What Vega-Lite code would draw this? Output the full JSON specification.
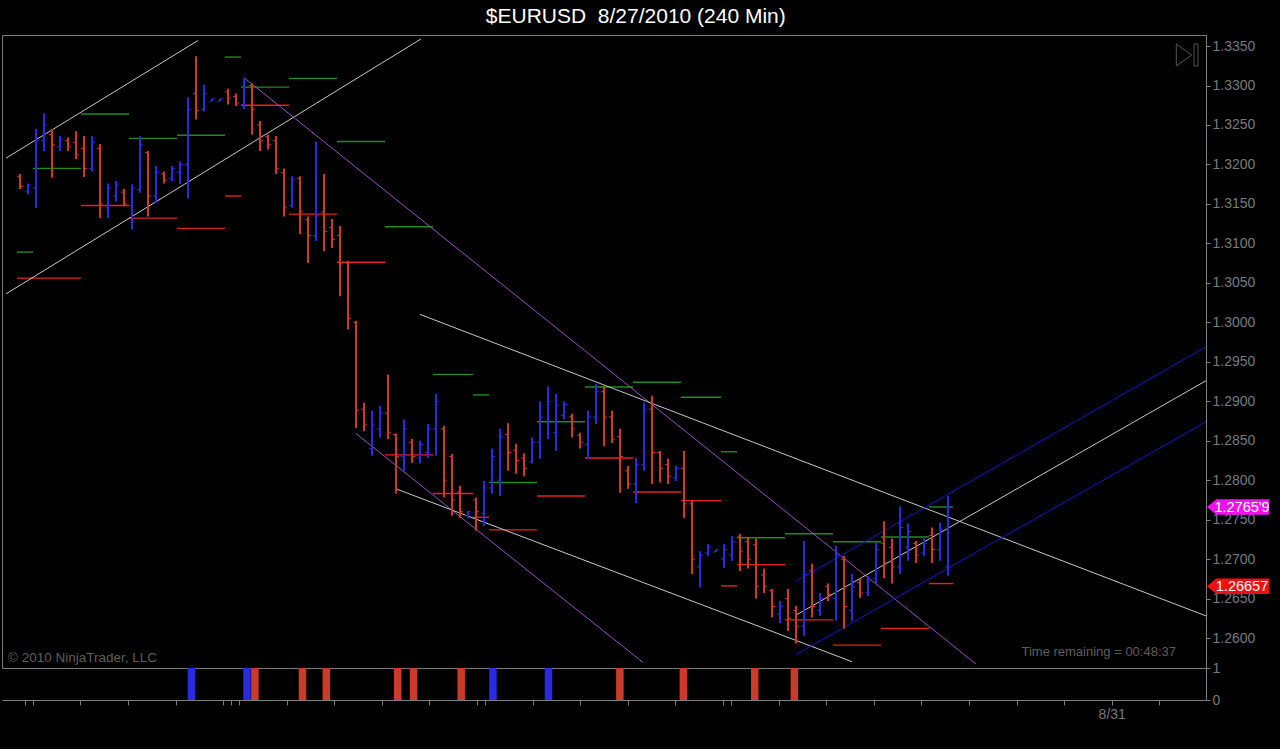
{
  "$schema": "https://vega.github.io/schema/vega-lite/v6.json",
  "background": "#000000",
  "padding": {"left": 1, "top": 5, "right": 12, "bottom": 28},
  "bounds": "flush",
  "title": {"text": "$EURUSD\u00a0 8/27/2010 (240 Min)", "color": "#ffffff", "font": "Liberation Sans", "fontSize": 21, "fontWeight": "normal", "offset": 8, "anchor": "middle"},
  "datasets": {
    "bars": [
      {"i":0,"o":1.3185,"h":1.3188,"l":1.3169,"c":1.3172,"d":"dn"},
      {"i":1,"o":1.3166,"h":1.3176,"l":1.3162,"c":1.3174,"d":"up"},
      {"i":2,"o":1.3170,"h":1.3245,"l":1.3145,"c":1.3230,"d":"up"},
      {"i":3,"o":1.3230,"h":1.3265,"l":1.3217,"c":1.3250,"d":"up"},
      {"i":4,"o":1.3238,"h":1.3245,"l":1.3183,"c":1.3225,"d":"dn"},
      {"i":5,"o":1.3222,"h":1.3236,"l":1.3217,"c":1.3232,"d":"up"},
      {"i":6,"o":1.3230,"h":1.3234,"l":1.3217,"c":1.3222,"d":"dn"},
      {"i":7,"o":1.3228,"h":1.3242,"l":1.3207,"c":1.3212,"d":"dn"},
      {"i":8,"o":1.3220,"h":1.3236,"l":1.3184,"c":1.3195,"d":"dn"},
      {"i":9,"o":1.3195,"h":1.3236,"l":1.3191,"c":1.3228,"d":"up"},
      {"i":10,"o":1.3220,"h":1.3226,"l":1.3132,"c":1.3150,"d":"dn"},
      {"i":11,"o":1.3145,"h":1.3176,"l":1.3132,"c":1.3170,"d":"up"},
      {"i":12,"o":1.3160,"h":1.3179,"l":1.3153,"c":1.3175,"d":"up"},
      {"i":13,"o":1.3165,"h":1.3169,"l":1.3147,"c":1.3150,"d":"dn"},
      {"i":14,"o":1.3148,"h":1.3175,"l":1.3118,"c":1.3170,"d":"up"},
      {"i":15,"o":1.3168,"h":1.3236,"l":1.3164,"c":1.3225,"d":"up"},
      {"i":16,"o":1.3215,"h":1.3217,"l":1.3134,"c":1.3160,"d":"dn"},
      {"i":17,"o":1.3160,"h":1.3198,"l":1.3151,"c":1.3190,"d":"up"},
      {"i":18,"o":1.3188,"h":1.3191,"l":1.3176,"c":1.3180,"d":"dn"},
      {"i":19,"o":1.3182,"h":1.3198,"l":1.3179,"c":1.3195,"d":"up"},
      {"i":20,"o":1.3190,"h":1.3204,"l":1.3175,"c":1.3200,"d":"up"},
      {"i":21,"o":1.3200,"h":1.3285,"l":1.3157,"c":1.3270,"d":"up"},
      {"i":22,"o":1.3290,"h":1.3337,"l":1.3257,"c":1.3268,"d":"dn"},
      {"i":23,"o":1.3270,"h":1.3301,"l":1.3267,"c":1.3290,"d":"up"},
      {"i":24,"o":1.3280,"h":1.3283,"l":1.3280,"c":1.3283,"d":"up"},
      {"i":25,"o":1.3280,"h":1.3283,"l":1.3280,"c":1.3283,"d":"up"},
      {"i":26,"o":1.3292,"h":1.3296,"l":1.3276,"c":1.3284,"d":"dn"},
      {"i":27,"o":1.3286,"h":1.3290,"l":1.3274,"c":1.3278,"d":"dn"},
      {"i":28,"o":1.3276,"h":1.3309,"l":1.3270,"c":1.3305,"d":"up"},
      {"i":29,"o":1.3300,"h":1.3303,"l":1.3238,"c":1.3270,"d":"dn"},
      {"i":30,"o":1.3250,"h":1.3255,"l":1.3217,"c":1.3230,"d":"dn"},
      {"i":31,"o":1.3235,"h":1.3238,"l":1.3219,"c":1.3225,"d":"dn"},
      {"i":32,"o":1.3230,"h":1.3236,"l":1.3188,"c":1.3195,"d":"dn"},
      {"i":33,"o":1.3190,"h":1.3195,"l":1.3134,"c":1.3145,"d":"dn"},
      {"i":34,"o":1.3148,"h":1.3185,"l":1.3145,"c":1.3180,"d":"up"},
      {"i":35,"o":1.3182,"h":1.3185,"l":1.3112,"c":1.3140,"d":"dn"},
      {"i":36,"o":1.3130,"h":1.3134,"l":1.3075,"c":1.3110,"d":"dn"},
      {"i":37,"o":1.3110,"h":1.3229,"l":1.3103,"c":1.3135,"d":"up"},
      {"i":38,"o":1.3140,"h":1.3188,"l":1.3090,"c":1.3115,"d":"dn"},
      {"i":39,"o":1.3120,"h":1.3131,"l":1.3094,"c":1.3105,"d":"dn"},
      {"i":40,"o":1.3110,"h":1.3122,"l":1.3033,"c":1.3075,"d":"dn"},
      {"i":41,"o":1.3075,"h":1.3078,"l":1.2991,"c":1.3005,"d":"dn"},
      {"i":42,"o":1.3000,"h":1.3002,"l":1.2866,"c":1.2888,"d":"dn"},
      {"i":43,"o":1.2890,"h":1.2898,"l":1.2862,"c":1.2870,"d":"dn"},
      {"i":44,"o":1.2840,"h":1.2888,"l":1.2831,"c":1.2870,"d":"up"},
      {"i":45,"o":1.2865,"h":1.2894,"l":1.2854,"c":1.2885,"d":"up"},
      {"i":46,"o":1.2885,"h":1.2934,"l":1.2852,"c":1.2860,"d":"dn"},
      {"i":47,"o":1.2858,"h":1.2859,"l":1.2783,"c":1.2830,"d":"dn"},
      {"i":48,"o":1.2830,"h":1.2877,"l":1.2812,"c":1.2865,"d":"up"},
      {"i":49,"o":1.2848,"h":1.2852,"l":1.2822,"c":1.2830,"d":"dn"},
      {"i":50,"o":1.2828,"h":1.2850,"l":1.2821,"c":1.2845,"d":"up"},
      {"i":51,"o":1.2835,"h":1.2871,"l":1.2828,"c":1.2865,"d":"up"},
      {"i":52,"o":1.2865,"h":1.2909,"l":1.2831,"c":1.2900,"d":"up"},
      {"i":53,"o":1.2865,"h":1.2869,"l":1.2778,"c":1.2800,"d":"dn"},
      {"i":54,"o":1.2830,"h":1.2833,"l":1.2755,"c":1.2775,"d":"dn"},
      {"i":55,"o":1.2785,"h":1.2793,"l":1.2752,"c":1.2760,"d":"dn"},
      {"i":56,"o":1.2755,"h":1.2761,"l":1.2752,"c":1.2760,"d":"up"},
      {"i":57,"o":1.2775,"h":1.2778,"l":1.2736,"c":1.2760,"d":"dn"},
      {"i":58,"o":1.2758,"h":1.2799,"l":1.2742,"c":1.2790,"d":"up"},
      {"i":59,"o":1.2790,"h":1.2840,"l":1.2783,"c":1.2830,"d":"up"},
      {"i":60,"o":1.2800,"h":1.2865,"l":1.2780,"c":1.2855,"d":"up"},
      {"i":61,"o":1.2858,"h":1.2872,"l":1.2812,"c":1.2835,"d":"dn"},
      {"i":62,"o":1.2838,"h":1.2846,"l":1.2808,"c":1.2825,"d":"dn"},
      {"i":63,"o":1.2828,"h":1.2834,"l":1.2805,"c":1.2815,"d":"dn"},
      {"i":64,"o":1.2823,"h":1.2854,"l":1.2821,"c":1.2848,"d":"up"},
      {"i":65,"o":1.2848,"h":1.2900,"l":1.2827,"c":1.2880,"d":"up"},
      {"i":66,"o":1.2875,"h":1.2919,"l":1.2852,"c":1.2900,"d":"up"},
      {"i":67,"o":1.2860,"h":1.2909,"l":1.2837,"c":1.2895,"d":"up"},
      {"i":68,"o":1.2882,"h":1.2900,"l":1.2877,"c":1.2896,"d":"up"},
      {"i":69,"o":1.2880,"h":1.2884,"l":1.2854,"c":1.2865,"d":"dn"},
      {"i":70,"o":1.2857,"h":1.2860,"l":1.2840,"c":1.2848,"d":"dn"},
      {"i":71,"o":1.2845,"h":1.2888,"l":1.2827,"c":1.2880,"d":"up"},
      {"i":72,"o":1.2880,"h":1.2922,"l":1.2871,"c":1.2912,"d":"up"},
      {"i":73,"o":1.2912,"h":1.2919,"l":1.2843,"c":1.2880,"d":"dn"},
      {"i":74,"o":1.2880,"h":1.2888,"l":1.2847,"c":1.2852,"d":"dn"},
      {"i":75,"o":1.2855,"h":1.2865,"l":1.2784,"c":1.2830,"d":"dn"},
      {"i":76,"o":1.2812,"h":1.2818,"l":1.2789,"c":1.2795,"d":"dn"},
      {"i":77,"o":1.2795,"h":1.2828,"l":1.2771,"c":1.2820,"d":"up"},
      {"i":78,"o":1.2820,"h":1.2898,"l":1.2812,"c":1.2890,"d":"up"},
      {"i":79,"o":1.2890,"h":1.2907,"l":1.2795,"c":1.2835,"d":"dn"},
      {"i":80,"o":1.2835,"h":1.2837,"l":1.2797,"c":1.2815,"d":"dn"},
      {"i":81,"o":1.2820,"h":1.2827,"l":1.2795,"c":1.2805,"d":"dn"},
      {"i":82,"o":1.2803,"h":1.2818,"l":1.2799,"c":1.2815,"d":"up"},
      {"i":83,"o":1.2815,"h":1.2837,"l":1.2752,"c":1.2770,"d":"dn"},
      {"i":84,"o":1.2770,"h":1.2774,"l":1.2681,"c":1.2700,"d":"dn"},
      {"i":85,"o":1.2690,"h":1.2710,"l":1.2664,"c":1.2705,"d":"up"},
      {"i":86,"o":1.2708,"h":1.2719,"l":1.2704,"c":1.2715,"d":"up"},
      {"i":87,"o":1.2709,"h":1.2712,"l":1.2709,"c":1.2712,"d":"up"},
      {"i":88,"o":1.2700,"h":1.2719,"l":1.2689,"c":1.2712,"d":"up"},
      {"i":89,"o":1.2705,"h":1.2729,"l":1.2698,"c":1.2722,"d":"up"},
      {"i":90,"o":1.2728,"h":1.2732,"l":1.2685,"c":1.2710,"d":"dn"},
      {"i":91,"o":1.2722,"h":1.2727,"l":1.2688,"c":1.2700,"d":"dn"},
      {"i":92,"o":1.2718,"h":1.2726,"l":1.2650,"c":1.2665,"d":"dn"},
      {"i":93,"o":1.2680,"h":1.2688,"l":1.2657,"c":1.2665,"d":"dn"},
      {"i":94,"o":1.2660,"h":1.2662,"l":1.2626,"c":1.2640,"d":"dn"},
      {"i":95,"o":1.2630,"h":1.2647,"l":1.2619,"c":1.2640,"d":"up"},
      {"i":96,"o":1.2650,"h":1.2662,"l":1.2609,"c":1.2625,"d":"dn"},
      {"i":97,"o":1.2635,"h":1.2641,"l":1.2593,"c":1.2615,"d":"dn"},
      {"i":98,"o":1.2615,"h":1.2723,"l":1.2603,"c":1.2680,"d":"up"},
      {"i":99,"o":1.2685,"h":1.2694,"l":1.2626,"c":1.2640,"d":"dn"},
      {"i":100,"o":1.2635,"h":1.2657,"l":1.2628,"c":1.2650,"d":"up"},
      {"i":101,"o":1.2665,"h":1.2669,"l":1.2647,"c":1.2655,"d":"dn"},
      {"i":102,"o":1.2650,"h":1.2717,"l":1.2622,"c":1.2705,"d":"up"},
      {"i":103,"o":1.2700,"h":1.2704,"l":1.2612,"c":1.2640,"d":"dn"},
      {"i":104,"o":1.2635,"h":1.2681,"l":1.2622,"c":1.2665,"d":"up"},
      {"i":105,"o":1.2670,"h":1.2675,"l":1.2651,"c":1.2657,"d":"dn"},
      {"i":106,"o":1.2658,"h":1.2679,"l":1.2653,"c":1.2672,"d":"up"},
      {"i":107,"o":1.2675,"h":1.2721,"l":1.2669,"c":1.2712,"d":"up"},
      {"i":108,"o":1.2720,"h":1.2748,"l":1.2676,"c":1.2695,"d":"dn"},
      {"i":109,"o":1.2715,"h":1.2726,"l":1.2669,"c":1.2690,"d":"dn"},
      {"i":110,"o":1.2690,"h":1.2767,"l":1.2681,"c":1.2740,"d":"up"},
      {"i":111,"o":1.2715,"h":1.2745,"l":1.2698,"c":1.2735,"d":"up"},
      {"i":112,"o":1.2720,"h":1.2723,"l":1.2695,"c":1.2705,"d":"dn"},
      {"i":113,"o":1.2708,"h":1.2726,"l":1.2704,"c":1.2720,"d":"up"},
      {"i":114,"o":1.2730,"h":1.2740,"l":1.2695,"c":1.2712,"d":"dn"},
      {"i":115,"o":1.2712,"h":1.2746,"l":1.2698,"c":1.2738,"d":"up"},
      {"i":116,"o":1.2690,"h":1.2780,"l":1.2679,"c":1.2766,"d":"up"}
    ],
    "levels": [
      {"s":-0.375,"e":1.625,"p":1.3089,"k":"hi"},
      {"s":-0.375,"e":7.625,"p":1.3056,"k":"lo"},
      {"s":1.625,"e":7.625,"p":1.3195,"k":"hi"},
      {"s":7.625,"e":13.625,"p":1.3264,"k":"hi"},
      {"s":7.625,"e":13.625,"p":1.3148,"k":"lo"},
      {"s":13.625,"e":19.625,"p":1.3233,"k":"hi"},
      {"s":13.625,"e":19.625,"p":1.3132,"k":"lo"},
      {"s":19.625,"e":25.625,"p":1.3237,"k":"hi"},
      {"s":19.625,"e":25.625,"p":1.3119,"k":"lo"},
      {"s":25.625,"e":27.625,"p":1.3336,"k":"hi"},
      {"s":25.625,"e":27.625,"p":1.3160,"k":"lo"},
      {"s":27.625,"e":33.625,"p":1.3298,"k":"hi"},
      {"s":27.625,"e":33.625,"p":1.3275,"k":"lo"},
      {"s":33.625,"e":39.625,"p":1.3309,"k":"hi"},
      {"s":33.625,"e":39.625,"p":1.3137,"k":"lo"},
      {"s":39.625,"e":45.625,"p":1.3229,"k":"hi"},
      {"s":39.625,"e":45.625,"p":1.3076,"k":"lo"},
      {"s":45.625,"e":51.625,"p":1.3121,"k":"hi"},
      {"s":45.625,"e":51.625,"p":1.2832,"k":"lo"},
      {"s":51.625,"e":56.625,"p":1.2934,"k":"hi"},
      {"s":51.625,"e":56.625,"p":1.2783,"k":"lo"},
      {"s":56.625,"e":58.625,"p":1.2908,"k":"hi"},
      {"s":56.625,"e":58.625,"p":1.2753,"k":"lo"},
      {"s":58.625,"e":64.625,"p":1.2797,"k":"hi"},
      {"s":58.625,"e":64.625,"p":1.2737,"k":"lo"},
      {"s":64.625,"e":70.625,"p":1.2874,"k":"hi"},
      {"s":64.625,"e":70.625,"p":1.2780,"k":"lo"},
      {"s":70.625,"e":76.625,"p":1.2918,"k":"hi"},
      {"s":70.625,"e":76.625,"p":1.2828,"k":"lo"},
      {"s":76.625,"e":82.625,"p":1.2924,"k":"hi"},
      {"s":76.625,"e":82.625,"p":1.2785,"k":"lo"},
      {"s":82.625,"e":87.625,"p":1.2905,"k":"hi"},
      {"s":82.625,"e":87.625,"p":1.2774,"k":"lo"},
      {"s":87.625,"e":89.625,"p":1.2836,"k":"hi"},
      {"s":87.625,"e":89.625,"p":1.2666,"k":"lo"},
      {"s":89.625,"e":95.625,"p":1.2727,"k":"hi"},
      {"s":89.625,"e":95.625,"p":1.2693,"k":"lo"},
      {"s":95.625,"e":101.625,"p":1.2732,"k":"hi"},
      {"s":95.625,"e":101.625,"p":1.2623,"k":"lo"},
      {"s":101.625,"e":107.625,"p":1.2722,"k":"hi"},
      {"s":101.625,"e":107.625,"p":1.2591,"k":"lo"},
      {"s":107.625,"e":113.625,"p":1.2728,"k":"hi"},
      {"s":107.625,"e":113.625,"p":1.2612,"k":"lo"},
      {"s":113.625,"e":116.625,"p":1.2766,"k":"hi"},
      {"s":113.625,"e":116.625,"p":1.2669,"k":"lo"}
    ],
    "trends": [
      {"x1":-1.75,"p1":1.3208,"x2":22.25,"p2":1.3357,"k":"white"},
      {"x1":-1.75,"p1":1.3036,"x2":50.125,"p2":1.3359,"k":"white"},
      {"x1":28,"p1":1.3310,"x2":119.5,"p2":1.2567,"k":"purple"},
      {"x1":42,"p1":1.2859,"x2":77.875,"p2":1.2569,"k":"purple"},
      {"x1":50,"p1":1.3010,"x2":148.25,"p2":1.2628,"k":"white"},
      {"x1":47,"p1":1.2789,"x2":104,"p2":1.2570,"k":"white"},
      {"x1":97,"p1":1.2672,"x2":148.25,"p2":1.2969,"k":"blue"},
      {"x1":97,"p1":1.2579,"x2":148.25,"p2":1.2874,"k":"blue"},
      {"x1":97,"p1":1.2629,"x2":148.25,"p2":1.2926,"k":"white"}
    ],
    "signals": [
      {"i":21,"v":1,"d":"up"},
      {"i":28,"v":1,"d":"up"},
      {"i":29,"v":1,"d":"dn"},
      {"i":35,"v":1,"d":"dn"},
      {"i":38,"v":1,"d":"dn"},
      {"i":47,"v":1,"d":"dn"},
      {"i":49,"v":1,"d":"dn"},
      {"i":55,"v":1,"d":"dn"},
      {"i":59,"v":1,"d":"up"},
      {"i":66,"v":1,"d":"up"},
      {"i":75,"v":1,"d":"dn"},
      {"i":83,"v":1,"d":"dn"},
      {"i":92,"v":1,"d":"dn"},
      {"i":97,"v":1,"d":"dn"}
    ],
    "tags": [
      {"i":148.25,"p":1.27659,"t":"1.2765'9","k":"last"},
      {"i":148.25,"p":1.26657,"t":"1.26657","k":"low"}
    ],
    "corner": [
      {"i":-2.25,"p":1.2562,"t":"© 2010 NinjaTrader, LLC"}
    ],
    "timer": [
      {"i":148.25,"p":1.2562,"t":"Time remaining = 00:48:37"}
    ],
    "icon": [
      {"i":148.25,"p":1.3364}
    ]
  },
  "spacing": 0,
  "vconcat": [
    {
      "width": 1204,
      "height": 633,
      "layer": [
        {
          "data": {"name": "levels"},
          "mark": {"type": "rule", "strokeWidth": 1.4, "clip": true},
          "encoding": {
            "x": {"field": "s", "type": "quantitative", "scale": {"domain": [-2.25, 148.25], "nice": false, "zero": false}, "axis": null},
            "x2": {"field": "e"},
            "y": {"field": "p", "type": "quantitative", "scale": {"domain": [1.2562, 1.3364], "nice": false, "zero": false},
              "axis": {"orient": "right", "title": null, "values": [1.26,1.265,1.27,1.275,1.28,1.285,1.29,1.295,1.3,1.305,1.31,1.315,1.32,1.325,1.33,1.335], "format": ".4f", "grid": false, "domainColor": "#808080", "tickColor": "#808080", "tickSize": 4, "labelColor": "#7a7a7a", "labelFont": "Liberation Sans", "labelFontSize": 14, "labelPadding": 2}},
            "color": {"field": "k", "type": "nominal", "scale": {"domain": ["up","dn","hi","lo","white","purple","blue"], "range": ["#2a2ae0","#cc3a2a","#1e8c1e","#e52222","#c8c8c8","#9a50c4","#1414d2"]}, "legend": null}
          }
        },
        {
          "data": {"name": "trends"},
          "mark": {"type": "rule", "clip": true},
          "encoding": {
            "x": {"field": "x1", "type": "quantitative"},
            "x2": {"field": "x2"},
            "y": {"field": "p1", "type": "quantitative"},
            "y2": {"field": "p2"},
            "color": {"field": "k", "type": "nominal", "legend": null},
            "strokeWidth": {"field": "k", "type": "nominal", "scale": {"domain": ["white","purple","blue"], "range": [1, 1, 2]}, "legend": null}
          }
        },
        {
          "data": {"name": "bars"},
          "mark": {"type": "rule", "strokeWidth": 2},
          "encoding": {
            "x": {"field": "i", "type": "quantitative"},
            "y": {"field": "l", "type": "quantitative"},
            "y2": {"field": "h"},
            "color": {"field": "d", "type": "nominal", "legend": null}
          }
        },
        {
          "data": {"name": "bars"},
          "mark": {"type": "rule", "strokeWidth": 1, "xOffset": -3, "x2Offset": 0},
          "encoding": {
            "x": {"field": "i", "type": "quantitative"},
            "x2": {"field": "i"},
            "y": {"field": "o", "type": "quantitative"},
            "color": {"field": "d", "type": "nominal", "legend": null}
          }
        },
        {
          "data": {"name": "bars"},
          "mark": {"type": "rule", "strokeWidth": 1, "xOffset": 0, "x2Offset": 3},
          "encoding": {
            "x": {"field": "i", "type": "quantitative"},
            "x2": {"field": "i"},
            "y": {"field": "c", "type": "quantitative"},
            "color": {"field": "d", "type": "nominal", "legend": null}
          }
        },
        {
          "data": {"name": "corner"},
          "mark": {"type": "text", "align": "left", "baseline": "alphabetic", "dx": 6, "dy": -6, "font": "Liberation Sans", "fontSize": 13.5, "color": "#5e5e5e"},
          "encoding": {
            "x": {"field": "i", "type": "quantitative"},
            "y": {"field": "p", "type": "quantitative"},
            "text": {"field": "t"}
          }
        },
        {
          "data": {"name": "timer"},
          "mark": {"type": "text", "align": "right", "baseline": "alphabetic", "dx": -30, "dy": -12, "font": "Liberation Sans", "fontSize": 13, "color": "#5e5e5e"},
          "encoding": {
            "x": {"field": "i", "type": "quantitative"},
            "y": {"field": "p", "type": "quantitative"},
            "text": {"field": "t"}
          }
        },
        {
          "data": {"name": "icon"},
          "mark": {"type": "point", "shape": "M-0.7,-1L0.7,0L-0.7,1Z", "size": 484, "filled": false, "stroke": "#7a7a7a", "strokeWidth": 1, "xOffset": -22, "yOffset": 20},
          "encoding": {
            "x": {"field": "i", "type": "quantitative"},
            "y": {"field": "p", "type": "quantitative"}
          }
        },
        {
          "data": {"name": "icon"},
          "mark": {"type": "point", "shape": "M-0.18,-1L0.18,-1L0.18,1L-0.18,1Z", "size": 484, "filled": false, "stroke": "#7a7a7a", "strokeWidth": 1, "xOffset": -10, "yOffset": 20},
          "encoding": {
            "x": {"field": "i", "type": "quantitative"},
            "y": {"field": "p", "type": "quantitative"}
          }
        },
        {
          "data": {"name": "tags"},
          "mark": {"type": "point", "shape": "M-1,0L-0.7,-0.25L1,-0.25L1,0.25L-0.7,0.25Z", "size": 3844, "filled": true, "opacity": 1, "xOffset": 32},
          "encoding": {
            "x": {"field": "i", "type": "quantitative"},
            "y": {"field": "p", "type": "quantitative"},
            "fill": {"field": "k", "type": "nominal", "scale": {"domain": ["last","low"], "range": ["#ee10ee","#ee1010"]}, "legend": null}
          }
        },
        {
          "data": {"name": "tags"},
          "mark": {"type": "text", "align": "center", "baseline": "middle", "dx": 36, "dy": 1, "font": "Liberation Sans", "fontSize": 14.5, "color": "#ffffff"},
          "encoding": {
            "x": {"field": "i", "type": "quantitative"},
            "y": {"field": "p", "type": "quantitative"},
            "text": {"field": "t"}
          }
        }
      ]
    },
    {
      "width": 1204,
      "height": 32,
      "view": {"stroke": null},
      "data": {"name": "signals"},
      "mark": {"type": "bar", "size": 7.5},
      "encoding": {
        "x": {"field": "i", "type": "quantitative", "scale": {"domain": [-2.25, 148.25], "nice": false, "zero": false},
          "axis": {"orient": "bottom", "title": null, "values": [0,1,7,13,19,25,26,27,33,39,45,51,57,58,64,70,76,82,88,89,95,101,107,113,119,125,131,137,143], "labelExpr": "datum.value == 137 ? '8/31' : ''", "grid": false, "domainColor": "#808080", "tickColor": "#808080", "tickSize": 5, "labelColor": "#7a7a7a", "labelFont": "Liberation Sans", "labelFontSize": 14, "labelPadding": 2, "labelOverlap": false}},
        "y": {"field": "v", "type": "quantitative", "scale": {"domain": [0, 1], "nice": false},
          "axis": {"orient": "right", "title": null, "values": [0, 1], "format": "d", "grid": false, "domainColor": "#808080", "tickColor": "#808080", "tickSize": 4, "labelColor": "#7a7a7a", "labelFont": "Liberation Sans", "labelFontSize": 14, "labelPadding": 2}},
        "color": {"field": "d", "type": "nominal", "scale": {"domain": ["up","dn"], "range": ["#0a0aff","#b42a24"]}, "legend": null}
      }
    }
  ],
  "config": {
    "view": {"stroke": "#7a7a7a", "strokeWidth": 1},
    "axis": {"grid": false}
  }
}
